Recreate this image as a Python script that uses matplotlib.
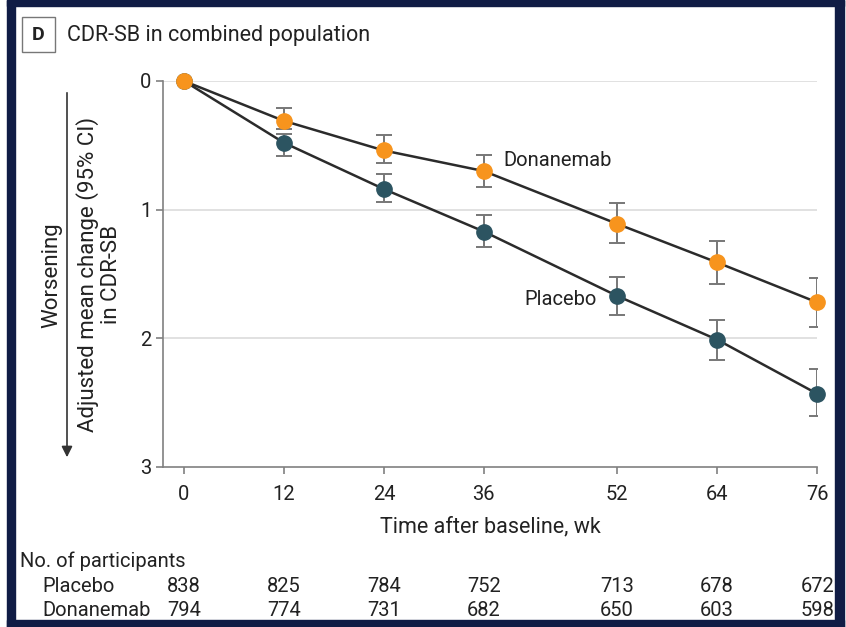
import matplotlib
matplotlib.use('Agg')
import numpy as np
import matplotlib.pyplot as plt
from matplotlib.patches import Rectangle

plt.rcParams['font.family'] = ['Roboto', 'DejaVu Sans']

### data ###
weeks = [0, 12, 24, 36, 52, 64, 76]
placebo = [0, 0.48, 0.84, 1.17, 1.67, 2.01, 2.43]
placebo_lo = [0, 0.41, 0.725, 1.045, 1.52, 1.86, 2.24]
placebo_hi = [0, 0.58, 0.94, 1.29, 1.82, 2.17, 2.60]
donan = [0, 0.31, 0.54, 0.70, 1.11, 1.41, 1.72]
donan_lo = [0, 0.21, 0.42, 0.575, 0.95, 1.24, 1.53]
donan_hi = [0, 0.37, 0.64, 0.82, 1.26, 1.58, 1.91]
n_placebo = [838, 825, 784, 752, 713, 678, 672]
n_donan = [794, 774, 731, 682, 650, 603, 598]

W, H = 846, 627
fig = plt.figure(figsize=(W/100, H/100), dpi=100)

### navy frame ###
navy = '#101c45'
for (x0, y0, w, h) in [(7, 0, 8, 627), (7, 0, 837, 6), (835, 0, 9, 627), (7, 620, 837, 7)]:
    fig.patches.append(Rectangle((x0/W, 1-(y0+h)/H), w/W, h/H, transform=fig.transFigure,
                                 color=navy, zorder=0))

ax = fig.add_axes([163/W, 1-467/H, (817-163)/W, (467-81)/H])
ax.set_xlim(-2.52, 76)
ax.set_ylim(3, 0)

for s in ['top', 'right']:
    ax.spines[s].set_visible(False)
for s in ['left', 'bottom']:
    ax.spines[s].set_color('#808080')
    ax.spines[s].set_linewidth(1.2)

ax.set_yticks([0, 1, 2, 3])
ax.set_xticks(weeks)
ax.tick_params(colors='#808080', length=5, width=1.2, labelsize=14.5, labelcolor='#222222')
ax.tick_params(axis='x', pad=8)
for yv in [0, 1, 2]:
    ax.axhline(yv, color='#dcdcdc', lw=1.2, zorder=0)

def draw(y, lo, hi, color):
    y = np.array(y)
    err = [y - np.array(lo), np.array(hi) - y]
    ax.errorbar(weeks[1:], y[1:], yerr=[err[0][1:], err[1][1:]], fmt='none',
                ecolor='#777777', elinewidth=1.4, capsize=6, capthick=1.4, zorder=2)
    ax.plot(weeks, y, color='#2b2b2b', lw=1.8, zorder=3, clip_on=False)
    ax.plot(weeks, y, 'o', color=color, ms=11, zorder=4, clip_on=False)

draw(placebo, placebo_lo, placebo_hi, '#2c5461')
draw(donan, donan_lo, donan_hi, '#f7941d')

ax.text(38.3, 0.62, 'Donanemab', fontsize=14.5, va='center', ha='left', color='#222222')
ax.text(49.6, 1.70, 'Placebo', fontsize=14.5, va='center', ha='right', color='#222222')

ax.set_xlabel('Time after baseline, wk', fontsize=15.5, color='#222222', labelpad=9)

### y label and arrow ###
fig.text(99/W, 1-274/H, 'Adjusted mean change (95% CI)\nin CDR-SB', rotation=90,
         ha='center', va='center', fontsize=16, color='#222222', linespacing=1.15)
fig.text(52/W, 1-275/H, 'Worsening', rotation=90, ha='center', va='center',
         fontsize=16, color='#222222')
ax.annotate('', xy=(67/W, 1-460/H), xytext=(67/W, 1-90/H), xycoords='figure fraction',
            arrowprops=dict(arrowstyle='-|>', color='#333333', lw=1.2, mutation_scale=16))

### title with box ###
fig.text(38.5/W, 1-35/H, 'D', ha='center', va='center', fontsize=14, fontweight='bold',
         color='#222222')
fig.patches.append(Rectangle((22/W, 1-52/H), 33/W, 35/H, transform=fig.transFigure,
                             fill=False, edgecolor='#777777', lw=1.0))
fig.text(67/W, 1-35/H, 'CDR-SB in combined population', ha='left', va='center',
         fontsize=15.5, color='#222222')

### participants table ###
fig.text(20/W, 1-561/H, 'No. of participants', ha='left', va='center', fontsize=14.5,
         color='#222222')
fig.text(42/W, 1-586/H, 'Placebo', ha='left', va='center', fontsize=14.5, color='#222222')
fig.text(42/W, 1-610/H, 'Donanemab', ha='left', va='center', fontsize=14.5, color='#222222')
for wk, a, b in zip(weeks, n_placebo, n_donan):
    xf = ax.transData.transform((wk, 0))[0] / W
    ha = 'center'
    if wk == weeks[-1]:
        xf = 834/W
        ha = 'right'
    fig.text(xf, 1-586/H, str(a), ha=ha, va='center', fontsize=14.5, color='#222222')
    fig.text(xf, 1-610/H, str(b), ha=ha, va='center', fontsize=14.5, color='#222222')

fig.savefig('out.png', dpi=100)
